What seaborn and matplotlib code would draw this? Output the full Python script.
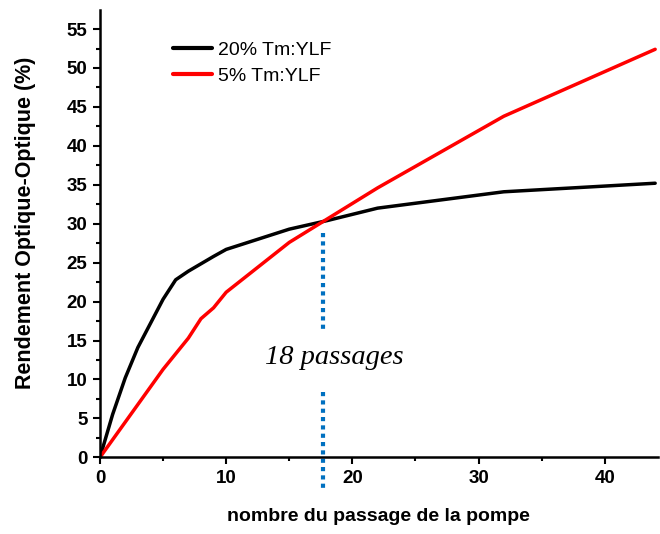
import pandas as pd
import matplotlib.pyplot as plt
import seaborn as sns
from matplotlib.ticker import MultipleLocator

sns.set_style("ticks", {"axes.edgecolor": "black", "text.color": "black",
                        "xtick.color": "black", "ytick.color": "black",
                        "axes.labelcolor": "black"})
plt.rcParams['font.family'] = ['Liberation Sans', 'DejaVu Sans']

# values
passages_20 = [0, 1, 2, 3, 5, 6, 7, 9, 10, 15, 18, 22, 32, 44]
rendement_20 = [0, 5.5, 10.2, 14.1, 20.3, 22.8, 23.9, 25.8, 26.7, 29.3, 30.4, 32.0, 34.1, 35.2]
passages_5 = [0, 5, 7, 8, 9, 10, 15, 18, 22, 32, 44]
rendement_5 = [0, 11.3, 15.3, 17.8, 19.2, 21.2, 27.6, 30.6, 34.6, 43.8, 52.4]
labels = ["20% Tm:YLF", "5% Tm:YLF"]
colors = ["black", "red"]
x_mark = 17.7

df = pd.concat([
    pd.DataFrame({"x": passages_20, "y": rendement_20, "serie": labels[0]}),
    pd.DataFrame({"x": passages_5, "y": rendement_5, "serie": labels[1]}),
])

fig = plt.figure(figsize=(6.6, 5.34), dpi=100)
ax = fig.add_axes([0.1515, 0.1436, 0.845, 0.837])

sns.lineplot(data=df, x="x", y="y", hue="serie", palette=colors, linewidth=2.5,
             sort=False, ax=ax)

# dotted marker at 18 passages
ax.plot([x_mark, x_mark], [28.8, 16.4], color="#0070C0", linestyle=(0, (1, 1)),
        linewidth=3, clip_on=False)
ax.plot([x_mark, x_mark], [8.4, -4.0], color="#0070C0", linestyle=(0, (1, 1)),
        linewidth=3, clip_on=False)
ax.text(18.6, 12.8, "18 passages", family=["Liberation Serif"], style="italic",
        fontsize=20.5, ha="center", va="center")

ax.set_xlim(0, 44.2)
ax.set_ylim(0, 57.4)
ax.xaxis.set_major_locator(MultipleLocator(10))
ax.xaxis.set_minor_locator(MultipleLocator(5))
ax.yaxis.set_major_locator(MultipleLocator(5))
ax.yaxis.set_minor_locator(MultipleLocator(2.5))
ax.tick_params(which="major", length=5, width=1.5, labelsize=13.5, pad=4)
ax.tick_params(which="minor", length=3, width=1.5)
for lab in ax.get_xticklabels() + ax.get_yticklabels():
    lab.set_fontweight("bold")
sns.despine(ax=ax)
for s in ["left", "bottom"]:
    ax.spines[s].set_linewidth(1.8)

ax.set_xlabel("nombre du passage de la pompe", fontsize=14, fontweight="bold", labelpad=15)
ax.set_ylabel("Rendement Optique-Optique (%)", fontsize=15.5, fontweight="bold")
ax.yaxis.set_label_coords(-0.115, 0.525)

leg = ax.legend(loc="upper left", bbox_to_anchor=(0.1, 0.97), frameon=False,
                fontsize=14, handlelength=2.0, handletextpad=0.3, labelspacing=0.45)
for line in leg.get_lines():
    line.set_linewidth(3)

fig.savefig("out.png", dpi=100)
